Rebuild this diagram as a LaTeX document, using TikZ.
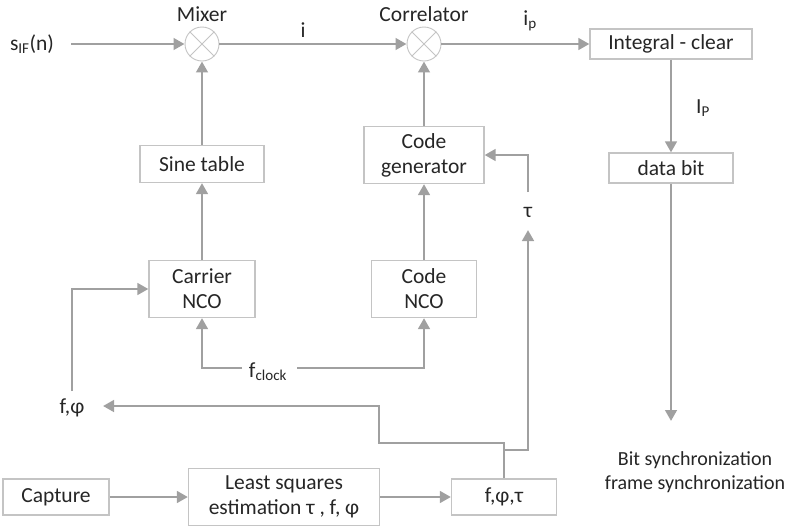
\documentclass[tikz,border=0pt]{standalone}
\usepackage{fontspec}
\setmainfont{Carlito}
\usetikzlibrary{arrows.meta}
\definecolor{linegray}{HTML}{A0A0A0}
\definecolor{boxgray}{HTML}{C4C4C4}
\definecolor{txt}{HTML}{262626}
\begin{document}
\begin{tikzpicture}[x=1pt,y=-1pt,
  font=\fontsize{21.5}{25}\selectfont, text=txt,
  blk/.style={draw=boxgray, line width=1.2pt, align=center, inner sep=0pt, fill=white},
  mixc/.style={circle, draw=boxgray, line width=0.9pt, minimum size=34pt, inner sep=0pt},
  lbl/.style={inner sep=0pt, align=center},
  arr/.style={draw=linegray, line width=2.9pt, -{Triangle[length=11pt,width=11.5pt]}},
  ln/.style={draw=linegray, line width=2.9pt}]
\useasboundingbox (0,0) rectangle (797,528);
\fill[white] (0,0) rectangle (797,528);

% mixers
\node[mixc] (mix) at (202,44) {};
\node[mixc] (cor) at (424,44) {};
\draw[boxgray, line width=0.9pt] (mix.north west) -- (mix.south east) (mix.north east) -- (mix.south west);
\draw[boxgray, line width=0.9pt] (cor.north west) -- (cor.south east) (cor.north east) -- (cor.south west);
\node[lbl] (mixl) at (202,14) {Mixer};
\node[lbl] (corl) at (424,14) {Correlator};

% blocks
\node[blk, minimum width=162pt, minimum height=30pt] (int) at (671,44) {Integral - clear};
\node[blk, minimum width=124pt, minimum height=30pt] (data) at (671,168) {data bit};
\node[blk, minimum width=124pt, minimum height=37pt] (sine) at (202,164) {Sine table};
\node[blk, minimum width=106pt, minimum height=57pt] (carrier) at (202,289) {Carrier\\NCO};
\node[blk, minimum width=120pt, minimum height=57pt] (codegen) at (424,155) {Code\\generator};
\node[blk, minimum width=105pt, minimum height=57pt] (codenco) at (424,289) {Code\\NCO};
\node[blk, minimum width=106pt, minimum height=36pt] (capture) at (56,497) {Capture};
\node[blk, minimum width=191pt, minimum height=57pt] (ls) at (284,497) {Least squares\\estimation τ , f, φ};
\node[blk, minimum width=105pt, minimum height=36pt] (fpt) at (504,497) {f,φ,τ};

% labels
\node[lbl] (sif) at (32,44) {s\textsubscript{IF}(n)};
\node[lbl] (il) at (303,30) {i};
\node[lbl] (ipl) at (530,21) {i\textsubscript{p}};
\node[lbl] (Ipl) at (703,108) {I\textsubscript{P}};
\node[lbl] (fclk) at (268,372) {f\textsubscript{clock}};
\node[lbl] (fphi) at (72,408) {f,φ};
\node[lbl] (taul) at (528,212) {τ};
\node[lbl, font=\fontsize{20}{24}\selectfont] (bits) at (695,472) {Bit synchronization\\frame synchronization};

% coordinates
\coordinate (sifs) at (71,44);
\coordinate (bitend) at (671,421);
\coordinate (fphiend) at (103,406);
\coordinate (fphistart) at (72,391);
\coordinate (fcl) at (242,368);
\coordinate (fcr) at (297,368);
\coordinate (j1) at (504,443);
\coordinate (j2) at (379,443);
\coordinate (j3) at (379,406);
\coordinate (t0) at (504,450);
\coordinate (t1) at (528,450);
\coordinate (t2) at (528,230);
\coordinate (t3) at (528,192);

% connectors
\draw[arr] (sifs) -- (mix.west);
\draw[arr] (mix.east) -- (cor.west);
\draw[arr] (cor.east) -- (int.west);
\draw[arr] (int.south) -- (data.north);
\draw[arr] (data.south) -- (bitend);
\draw[arr] (sine.north) -- (mix.south);
\draw[arr] (carrier.north) -- (sine.south);
\draw[arr] (codegen.north) -- (cor.south);
\draw[arr] (codenco.north) -- (codegen.south);
\draw[arr] (fcl) -| (carrier.south);
\draw[arr] (fcr) -| (codenco.south);
\draw[arr] (fphistart) |- (carrier.west);
\draw[arr] (capture.east) -- (ls.west);
\draw[arr] (ls.east) -- (fpt.west);
\draw[arr] (fpt.north) -- (j1) -- (j2) -- (j3) -- (fphiend);
\draw[arr] (t0) -- (t1) -- (t2);
\draw[arr] (t3) |- (codegen.east);
\end{tikzpicture}
\end{document}
